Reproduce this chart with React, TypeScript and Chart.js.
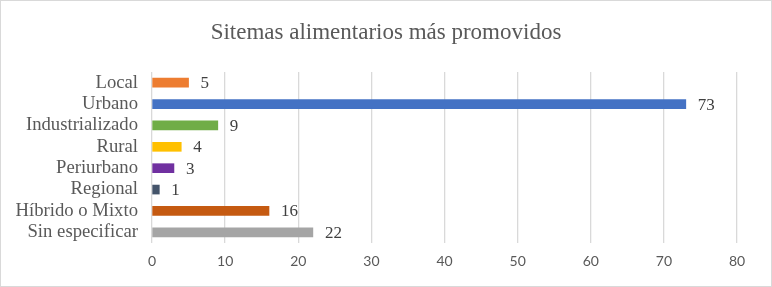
import React, { useEffect, useRef } from "react";
import { Chart, registerables } from "chart.js";

Chart.register(...registerables);

const categories = ["Local", "Urbano", "Industrializado", "Rural", "Periurbano", "Regional", "Híbrido o Mixto", "Sin especificar"];
const values = [5, 73, 9, 4, 3, 1, 16, 22];
const barColors = ["#ED7D31", "#4472C4", "#70AD47", "#FFC000", "#7030A0", "#44546A", "#C55A11", "#A5A5A5"];
const titleText = "Sitemas alimentarios más promovidos";
const xMin = 0;
const xMax = 80;
const xStep = 10;

const SERIF = "'Liberation Serif', 'Times New Roman', serif";
const SANS = "Lato, 'Liberation Sans', sans-serif";

const framePlugin = {
  id: "frame",
  beforeDraw(chart: any) {
    const { ctx, width, height } = chart;
    ctx.save();
    ctx.fillStyle = "#ffffff";
    ctx.fillRect(0, 0, width, height);
    ctx.strokeStyle = "#D9D9D9";
    ctx.lineWidth = 1;
    ctx.strokeRect(0.5, 0.5, width - 1, height - 1);
    ctx.font = `23px ${SERIF}`;
    ctx.fillStyle = "#595959";
    ctx.textAlign = "center";
    ctx.textBaseline = "middle";
    ctx.fillText(titleText, width / 2, 33);
    ctx.restore();
  },
};

const labelPlugin = {
  id: "barLabels",
  afterDatasetsDraw(chart: any) {
    const { ctx } = chart;
    const meta = chart.getDatasetMeta(0);
    ctx.save();
    ctx.font = `17px ${SERIF}`;
    ctx.fillStyle = "#404040";
    ctx.textAlign = "left";
    ctx.textBaseline = "middle";
    meta.data.forEach((bar: any, i: number) => {
      ctx.fillText(String(values[i]), bar.x + 12, bar.y + 1);
    });
    ctx.restore();
  },
};

export default function App() {
  const ref = useRef<HTMLCanvasElement | null>(null);
  useEffect(() => {
    document.body.style.margin = "0";
    const chart = new Chart(ref.current as HTMLCanvasElement, {
      type: "bar",
      data: {
        labels: categories,
        datasets: [
          {
            data: values,
            backgroundColor: barColors,
            barThickness: 9,
          },
        ],
      },
      options: {
        indexAxis: "y",
        animation: false,
        responsive: false,
        maintainAspectRatio: false,
        layout: { padding: { left: 0, right: 35, top: 72, bottom: 0 } },
        plugins: {
          legend: { display: false },
          tooltip: { enabled: false },
          title: { display: false },
        },
        scales: {
          x: {
            min: xMin,
            max: xMax,
            ticks: {
              stepSize: xStep,
              color: "#595959",
              font: { family: SANS, size: 14 },
              padding: 10,
            },
            grid: { color: "#D9D9D9", lineWidth: 1.3, drawTicks: false },
            border: { display: false },
            afterFit(scale: any) {
              scale.height = 44;
            },
          },
          y: {
            ticks: {
              color: "#595959",
              font: { family: SERIF, size: 18.7 },
              padding: 14,
              autoSkip: false,
            },
            grid: { display: false, drawTicks: false },
            border: { display: false },
            afterFit(scale: any) {
              scale.width = 152;
            },
          },
        },
      } as any,
      plugins: [framePlugin, labelPlugin],
    });
    return () => chart.destroy();
  }, []);
  return (
    <div style={{ width: 772, height: 287 }}>
      <canvas ref={ref} width={772} height={287} style={{ display: "block" }} />
    </div>
  );
}
